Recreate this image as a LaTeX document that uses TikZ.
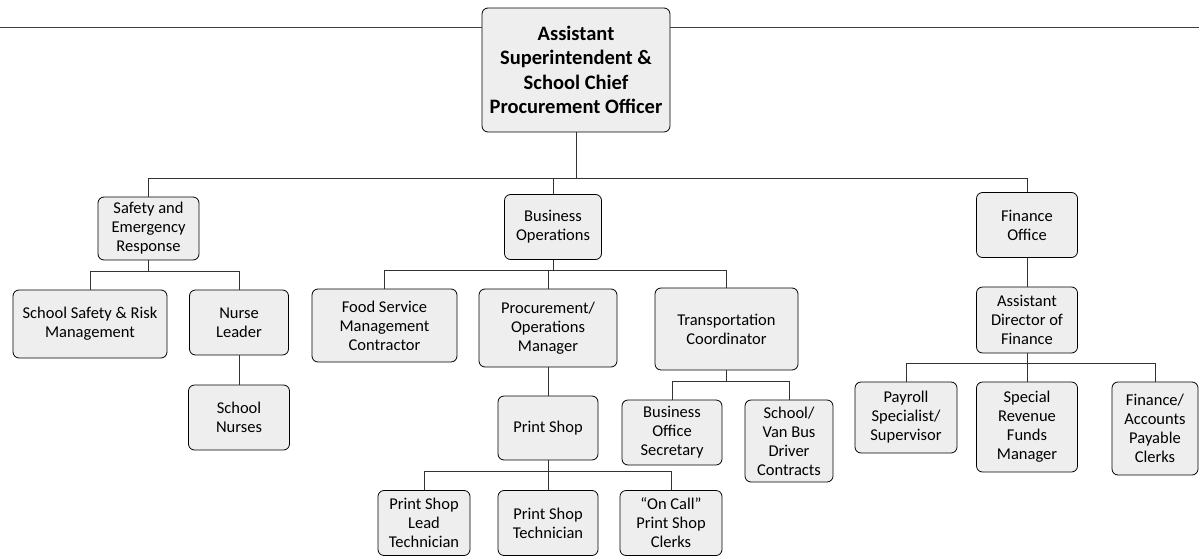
\documentclass[tikz,border=0pt]{standalone}
\usepackage{fontspec}
\setmainfont{Carlito}
\tikzset{
  box/.style={draw=black, line width=0.8pt, fill=gray!13, rounded corners=6pt,
    align=center, inner sep=1pt, font=\fontsize{16.5}{19}\selectfont},
  topbox/.style={box, font=\fontsize{20.5}{24.5}\selectfont\bfseries},
  link/.style={draw=black!80, line width=0.7pt},
  rule/.style={draw=black!75, line width=0.8pt}
}
\begin{document}
\begin{tikzpicture}[x=1pt,y=-1pt]
\useasboundingbox (0,0) rectangle (1199,557);
% bus coordinates
\coordinate (hl) at (0,27);
\coordinate (hr) at (1199,27);
\coordinate (bus0) at (0,178);
\coordinate (busS) at (0,271);
\coordinate (busB) at (0,270);
\coordinate (busF) at (0,363);
\coordinate (busT) at (0,381);
\coordinate (busP) at (0,471);
% nodes
\node[topbox, minimum width=188pt, minimum height=124pt] (top) at (576,70)
  {Assistant\\Superintendent \&\\School Chief\\Procurement Officer};
\node[box, minimum width=101pt, minimum height=63pt] (safety) at (148.5,228.5)
  {Safety and\\Emergency\\Response};
\node[box, minimum width=97pt, minimum height=65pt] (bus) at (553,227)
  {Business\\Operations};
\node[box, minimum width=101pt, minimum height=65pt] (fin) at (1027,225)
  {Finance\\Office};
\node[box, minimum width=154pt, minimum height=68pt] (ssrm) at (90,324)
  {School Safety \& Risk\\Management};
\node[box, minimum width=99pt, minimum height=65pt] (nurse) at (239,322.5)
  {Nurse\\Leader};
\node[box, minimum width=101pt, minimum height=65pt] (nurses) at (239,417.5)
  {School\\Nurses};
\node[box, minimum width=145pt, minimum height=73pt] (food) at (384.5,325.5)
  {Food Service\\Management\\Contractor};
\node[box, minimum width=138pt, minimum height=78pt] (proc) at (548,328)
  {Procurement/\\Operations\\Manager};
\node[box, minimum width=143pt, minimum height=82pt] (trans) at (726.5,329)
  {Transportation\\Coordinator};
\node[box, minimum width=100pt, minimum height=64pt] (print) at (548,428)
  {Print Shop};
\node[box, minimum width=100pt, minimum height=65pt] (sec) at (672,432.5)
  {Business\\Office\\Secretary};
\node[box, minimum width=88pt, minimum height=82pt] (van) at (789,441)
  {School/\\Van Bus\\Driver\\Contracts};
\node[box, minimum width=92pt, minimum height=65pt] (lead) at (424,523)
  {Print Shop\\Lead\\Technician};
\node[box, minimum width=100pt, minimum height=65pt] (tech) at (548,523)
  {Print Shop\\Technician};
\node[box, minimum width=102pt, minimum height=65pt] (clerk) at (671,523)
  {``On Call''\\Print Shop\\Clerks};
\node[box, minimum width=101pt, minimum height=66pt] (adf) at (1027,320)
  {Assistant\\Director of\\Finance};
\node[box, minimum width=102pt, minimum height=71pt] (pay) at (906,417.5)
  {Payroll\\Specialist/\\Supervisor};
\node[box, minimum width=101pt, minimum height=90pt] (srf) at (1027,427)
  {Special\\Revenue\\Funds\\Manager};
\node[box, minimum width=86pt, minimum height=93pt] (ap) at (1155,428.5)
  {Finance/\\Accounts\\Payable\\Clerks};
% header rule
\draw[rule] (hl) -- (hl -| top.west);
\draw[rule] (top.east |- hr) -- (hr);
% connectors
\draw[link] (top.south) -- (top.south |- bus0);
\draw[link] (safety.north) -- (safety.north |- bus0) -- (fin.north |- bus0) -- (fin.north);
\draw[link] (bus.north) -- (bus.north |- bus0);
\draw[link] (safety.south) -- (safety.south |- busS);
\draw[link] (ssrm.north) -- (ssrm.north |- busS) -- (nurse.north |- busS) -- (nurse.north);
\draw[link] (nurse.south) -- (nurses.north);
\draw[link] (bus.south) -- (bus.south |- busB);
\draw[link] (food.north) -- (food.north |- busB) -- (trans.north |- busB) -- (trans.north);
\draw[link] (proc.north) -- (proc.north |- busB);
\draw[link] (proc.south) -- (print.north);
\draw[link] (trans.south) -- (trans.south |- busT);
\draw[link] (sec.north) -- (sec.north |- busT) -- (van.north |- busT) -- (van.north);
\draw[link] (print.south) -- (print.south |- busP);
\draw[link] (lead.north) -- (lead.north |- busP) -- (clerk.north |- busP) -- (clerk.north);
\draw[link] (tech.north) -- (tech.north |- busP);
\draw[link] (fin.south) -- (adf.north);
\draw[link] (adf.south) -- (adf.south |- busF);
\draw[link] (pay.north) -- (pay.north |- busF) -- (ap.north |- busF) -- (ap.north);
\draw[link] (srf.north) -- (srf.north |- busF);
\end{tikzpicture}
\end{document}
